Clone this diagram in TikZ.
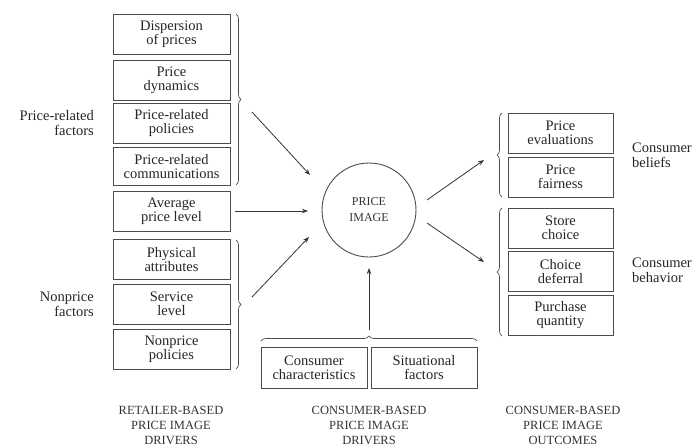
\documentclass[tikz,border=0pt]{standalone}
\usepackage{fontspec}
\setmainfont{Liberation Serif}
\usetikzlibrary{arrows.meta,decorations.pathreplacing}
\begin{document}
\begin{tikzpicture}[x=1pt,y=-1pt,
  box/.style={draw=black!70,line width=1pt,inner sep=0pt,align=center,
    font=\fontsize{14.5}{14}\selectfont,text=black!85},
  lbox/.style={box,minimum width=117pt,minimum height=40pt},
  rbox/.style={box,minimum width=105pt,minimum height=40pt},
  bbox/.style={box,minimum width=106pt,minimum height=41pt},
  side/.style={inner sep=0pt,font=\fontsize{14.5}{15}\selectfont,text=black!85},
  foot/.style={inner sep=0pt,align=center,font=\fontsize{12.5}{15}\selectfont,text=black!80},
  arr/.style={-{Stealth[length=6pt,width=4.5pt]},line width=0.8pt,draw=black!80},
  brc/.style={decorate,decoration={brace,amplitude=5pt},line width=0.7pt,draw=black!70}]
\useasboundingbox (0,0) rectangle (699,447);
\fill[white] (0,0) rectangle (699,447);
% left column
\node[lbox] (disp) at (171.5,34.5) {Dispersion\\of prices};
\node[lbox] (dyn) at (171.5,80) {Price\\dynamics};
\node[lbox] (pol) at (171.5,123.5) {Price-related\\policies};
\node[lbox,minimum height=38pt] (com) at (171.5,166.5) {Price-related\\communications};
\node[lbox] (avg) at (171.5,211) {Average\\price level};
\node[lbox] (phys) at (171.5,259.5) {Physical\\attributes};
\node[lbox] (serv) at (171.5,304) {Service\\level};
\node[lbox] (npol) at (171.5,349) {Nonprice\\policies};
\node[side,anchor=east,align=right] (prf) at (94,123) {Price-related\\factors};
\node[side,anchor=east,align=right] (npf) at (94,304) {Nonprice\\factors};
\draw[brc] (236,14) -- (236,185);
\draw[brc] (236,240) -- (236,369);
% centre
\node[circle,draw=black!70,line width=0.9pt,minimum size=94pt,inner sep=0pt,align=center,
  font=\fontsize{12}{16}\selectfont,text=black!80] (pi) at (369,210) {PRICE\\IMAGE};
\node[bbox] (char) at (314,367.5) {Consumer\\characteristics};
\node[bbox] (sit) at (424,367.5) {Situational\\factors};
\draw[brc] (261,341) -- (477,341);
% right column
\node[rbox] (eval) at (560.5,133) {Price\\evaluations};
\node[rbox] (fair) at (560.5,177) {Price\\fairness};
\node[rbox] (store) at (560.5,228) {Store\\choice};
\node[rbox] (defer) at (560.5,271.5) {Choice\\deferral};
\node[rbox] (qty) at (560.5,315) {Purchase\\quantity};
\draw[brc] (502,197) -- (502,113);
\draw[brc] (502,336) -- (502,208);
\node[side,anchor=west,align=left] (bel) at (632,155) {Consumer\\beliefs};
\node[side,anchor=west,align=left] (beh) at (632,270) {Consumer\\behavior};
% arrows
\coordinate (a1s) at (252,112); \coordinate (a1e) at (310,175);
\coordinate (a2s) at (235,211); \coordinate (a2e) at (308,211);
\coordinate (a3s) at (252,297); \coordinate (a3e) at (309,237);
\coordinate (a4s) at (369,330); \coordinate (a4e) at (369,268);
\coordinate (a5s) at (427,200); \coordinate (a5e) at (484,160);
\coordinate (a6s) at (427,223); \coordinate (a6e) at (484,262);
\draw[arr] (a1s) -- (a1e);
\draw[arr] (a2s) -- (a2e);
\draw[arr] (a3s) -- (a3e);
\draw[arr] (a4s) -- (a4e);
\draw[arr] (a5s) -- (a5e);
\draw[arr] (a6s) -- (a6e);
% footers
\node[foot] (f1) at (171,425) {RETAILER-BASED\\PRICE IMAGE\\DRIVERS};
\node[foot] (f2) at (369,425) {CONSUMER-BASED\\PRICE IMAGE\\DRIVERS};
\node[foot] (f3) at (563,425) {CONSUMER-BASED\\PRICE IMAGE\\OUTCOMES};
\end{tikzpicture}
\end{document}
